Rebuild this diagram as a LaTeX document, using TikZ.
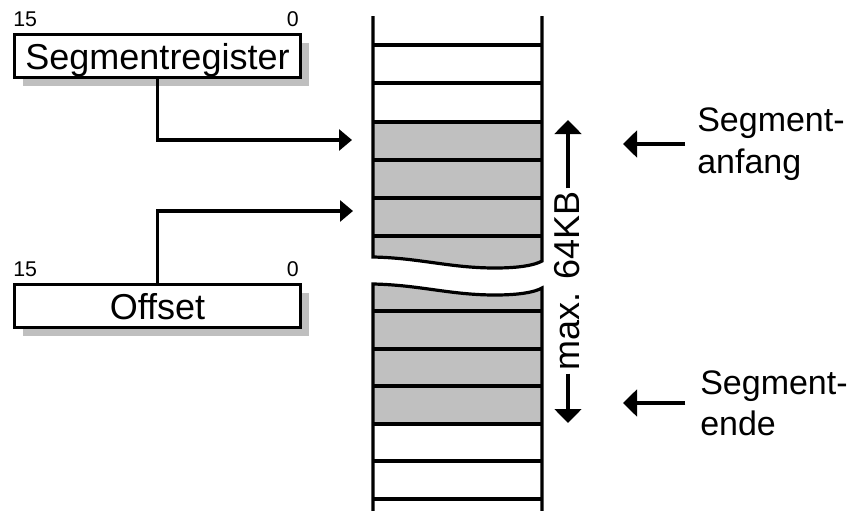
\documentclass[tikz,border=0pt]{standalone}
\usepackage{fontspec}
\setmainfont{Liberation Sans}
\usetikzlibrary{arrows.meta,shadows}
\definecolor{memgray}{HTML}{C0C0C0}
\begin{document}
\begin{tikzpicture}[x=0.75pt,y=-0.75pt,
  big/.style={font=\fontsize{27}{31}\selectfont},
  side/.style={font=\fontsize{25.5}{31}\selectfont},
  small/.style={font=\fontsize{16}{18}\selectfont, inner sep=0pt},
  regbox/.style={draw, line width=2.3pt, fill=white, minimum width=214.5pt,
    minimum height=32.25pt, inner sep=0pt, text height=19.5pt, text depth=0pt, big,
    drop shadow={shadow xshift=6pt, shadow yshift=-6pt, fill=black!25, opacity=1}},
  conn/.style={line width=2.3pt, -{Triangle[length=9.75pt,width=15.75pt]}},
  arr/.style={line width=2.3pt, -{Triangle[length=10.5pt,width=20pt]}},
  cell/.style={line width=2.4pt},
  lbl/.style={side, align=left, inner sep=0pt, anchor=west}
]
\useasboundingbox (0,0) rectangle (851,511);

% memory column
\fill[memgray] (373,122) -- (373,257) .. controls (420,258) and (450,268) .. (495,268)
   .. controls (520,268) and (535,265) .. (542,261) -- (542,122) -- cycle;
\fill[memgray] (373,424) -- (373,284) .. controls (420,285) and (450,295) .. (495,295)
   .. controls (520,295) and (535,292) .. (542,288) -- (542,424) -- cycle;
\draw[cell] (373,16) -- (373,257) .. controls (420,258) and (450,268) .. (495,268)
   .. controls (520,268) and (535,265) .. (542,261) -- (542,16);
\draw[cell] (373,511) -- (373,284) .. controls (420,285) and (450,295) .. (495,295)
   .. controls (520,295) and (535,292) .. (542,288) -- (542,511);
\foreach \y in {45,83,122,160,198,236,311,349,386,424,461,499}
  \draw[cell] (373,\y) -- (542,\y);

% registers
\node[regbox] (seg) at (157.5,56) {Segmentregister};
\node[regbox] (off) at (157.5,306) {Offset};
\node[small, anchor=base west] (s15) at (13,26) {15};
\node[small, anchor=base east] (s0) at (299,26) {0};
\node[small, anchor=base west] (o15) at (13,276) {15};
\node[small, anchor=base east] (o0) at (299,276) {0};

\coordinate (t1) at (352,140);
\coordinate (t2) at (353,211);
\draw[conn] (seg.south) |- (t1);
\draw[conn] (off.north) |- (t2);

% range
\coordinate (rtop) at (568,120);
\coordinate (rbot) at (568,423);
\node[big, rotate=90, anchor=base, inner sep=2pt] (rng) at (579,281) {max. 64KB};
\draw[arr] (rtop |- rng.east) -- (rtop);
\draw[arr] (rtop |- rng.west) -- (rbot);

% right labels
\coordinate (ta) at (623,0);
\node[lbl] (sa) at (697,144) {Segment-\\anfang};
\node[lbl] (se) at (700,403) {Segment-\\ende};
\draw[arr] ([xshift=-9pt]sa.west) -- (sa.west -| ta);
\draw[arr] ([xshift=-11pt]se.west) -- (se.west -| ta);
\end{tikzpicture}
\end{document}
